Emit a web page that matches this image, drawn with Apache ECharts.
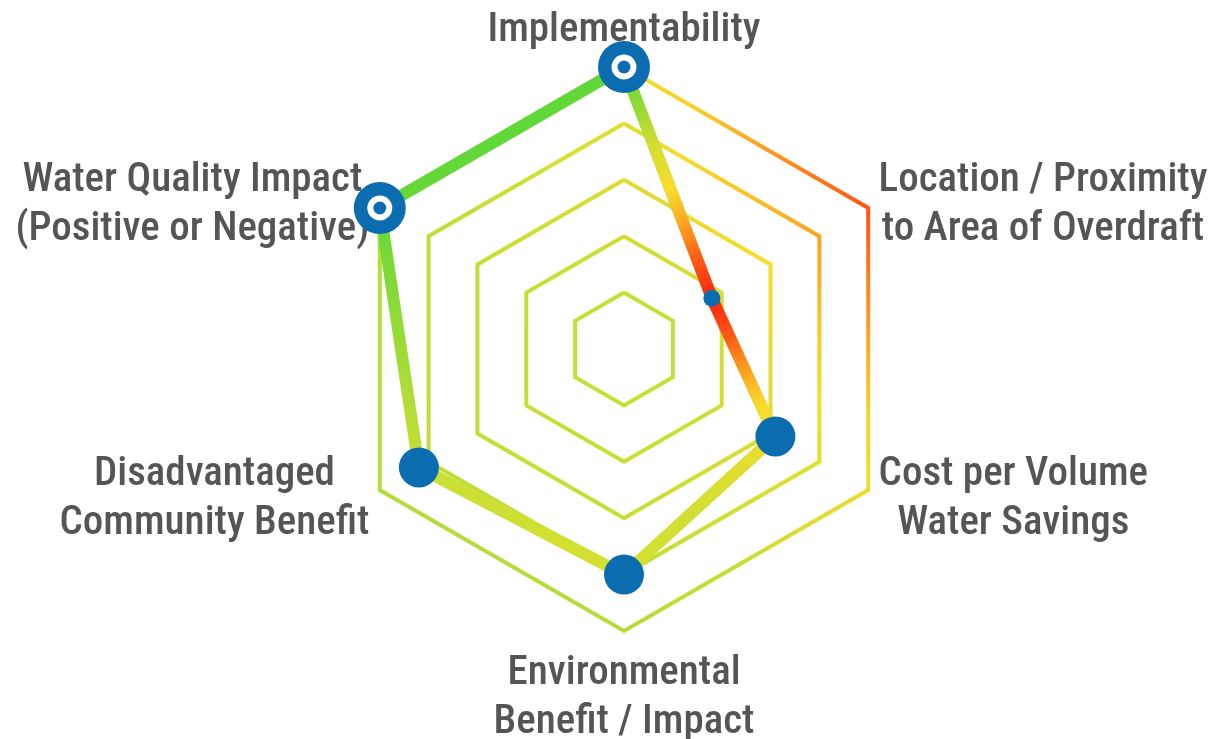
<!DOCTYPE html>
<html>
<head>
<meta charset="utf-8">
<title>Radar</title>
<script src="https://cdn.jsdelivr.net/npm/echarts@6/dist/echarts.min.js"></script>
<style>
  html, body { margin: 0; padding: 0; background: #fff; }
  #chart { width: 1220px; height: 739px; }
</style>
</head>
<body>
<div id="chart"></div>
<script>
// indicators, counter-clockwise starting at the top
var indicatorNames = [
  'Implementability',
  'Water Quality Impact\n(Positive or Negative)',
  'Disadvantaged\nCommunity Benefit',
  'Environmental\nBenefit / Impact',
  'Cost per Volume\nWater Savings',
  'Location / Proximity\nto Area of Overdraft'
]
var scoreMax = 5
var scores = [5, 5, 4.2, 4, 3.1, 1.8]

var CENTER = [624, 349]
var RADIUS = 282
var BLUE = '#0b6db0'
var FONT = "'Liberation Sans Narrow', 'Arial Narrow', 'Roboto Condensed', 'DejaVu Sans Condensed', sans-serif"

// pick a font size so that the labels are as wide as in the original
var ctx = document.createElement('canvas').getContext('2d')
ctx.font = '500 44px ' + FONT
var FONT_SIZE = Math.round(44 * 274 / ctx.measureText('Implementability').width)

function radial (x, y, r, stops) {
  return new echarts.graphic.RadialGradient(x, y, r, stops.map(function (s) {
    return { offset: s[0], color: s[1] }
  }))
}

// one colour per ring (index 0 is the centre point)
var ringColors = [
  '#c5df33',
  '#c5df33',
  radial(1, 0.25, 1, [[0, '#dcdc30'], [1, '#c6de34']]),
  radial(1, 0.25, 1, [[0, '#f8dc2c'], [0.4, '#e4dc30'], [1, '#c6de34']]),
  radial(1, 0.25, 1, [[0, '#ffa020'], [0.25, '#f8c828'], [0.4, '#f5dc2c'], [0.65, '#d8e030'], [1, '#c0dc36']]),
  radial(1, 0.25, 1, [[0, '#ff5212'], [0.25, '#ffa020'], [0.42, '#f8d22a'], [0.55, '#f2dc2e'], [0.62, '#e4dc30'], [0.82, '#c4dc34'], [1, '#b4dc3a']])
]

// polygon through the scores, closed back on the first axis (angle index 6 == 0)
function closedLine () {
  var d = scores.map(function (v, i) { return [v, i] })
  d.push([scores[0], scores.length])
  return d
}

function markers (sizeOf) {
  return scores.map(function (v, i) {
    var s = sizeOf(v)
    return { value: [v, i], symbol: s ? 'circle' : 'none', symbolSize: s || 1 }
  })
}

var markerBase = {
  type: 'line',
  coordinateSystem: 'polar',
  clip: false,
  showAllSymbol: true,
  silent: true,
  lineStyle: { opacity: 0 }
}

var chart = echarts.init(document.getElementById('chart'))
chart.setOption({
  animation: false,
  radar: {
    center: CENTER,
    radius: RADIUS,
    startAngle: 90,
    splitNumber: 5,
    shape: 'polygon',
    indicator: indicatorNames.map(function (n) { return { name: n, min: 0, max: scoreMax } }),
    axisNameGap: 12,
    axisName: {
      color: '#555',
      fontSize: FONT_SIZE,
      fontWeight: 500,
      fontFamily: FONT,
      lineHeight: 49,
      padding: [6, 0, 0, 0],
      formatter: function (name) {
        return name.split('\n').map(function (l) { return '{a|' + l + '}' }).join('\n')
      },
      rich: {
        a: { align: 'center', color: '#555', fontSize: FONT_SIZE, fontWeight: 500, fontFamily: FONT, lineHeight: 49 }
      }
    },
    axisLine: { show: false },
    axisTick: { show: false },
    axisLabel: { show: false },
    splitArea: { show: false },
    splitLine: { lineStyle: { color: ringColors, width: 4 } }
  },
  polar: { center: CENTER, radius: RADIUS },
  angleAxis: {
    type: 'value',
    min: 0,
    max: scores.length,
    interval: 1,
    startAngle: 90,
    clockwise: false,
    axisLine: { show: false },
    axisTick: { show: false },
    axisLabel: { show: false },
    splitLine: { show: false }
  },
  radiusAxis: {
    min: 0,
    max: scoreMax,
    axisLine: { show: false },
    axisTick: { show: false },
    axisLabel: { show: false },
    splitLine: { show: false }
  },
  series: [
    {
      // base line: green at the top, yellow-green at the bottom
      type: 'line',
      coordinateSystem: 'polar',
      clip: false,
      symbol: 'none',
      data: closedLine(),
      lineStyle: {
        width: 12,
        join: 'round',
        color: new echarts.graphic.LinearGradient(0, 0, 0, 1, [
          { offset: 0, color: '#5ed838' },
          { offset: 0.3, color: '#66d838' },
          { offset: 0.6, color: '#a8dc36' },
          { offset: 0.8, color: '#cadf34' },
          { offset: 1, color: '#d6e030' }
        ])
      }
    },
    {
      // hot overlay around the low score
      type: 'line',
      coordinateSystem: 'polar',
      clip: false,
      symbol: 'none',
      data: closedLine(),
      lineStyle: {
        width: 12,
        join: 'round',
        color: radial(0.836, 0.456, 0.6, [
          [0, '#ff2010'], [0.17, '#ff5a14'], [0.34, '#ffa822'], [0.48, '#f8dc2c'],
          [0.67, 'rgba(236,222,46,0.85)'], [1, 'rgba(210,222,50,0)']
        ])
      }
    },
    // blue marker: outer disc, white hole for full scores, centre dot
    Object.assign({ data: markers(function (v) { return v >= scoreMax ? 52 : (v < 2 ? 0 : 40) }), itemStyle: { color: BLUE } }, markerBase),
    Object.assign({ data: markers(function (v) { return v >= scoreMax ? 25 : 0 }), itemStyle: { color: '#fff' } }, markerBase),
    Object.assign({ data: markers(function (v) { return v < 2 ? 17 : 13 }), itemStyle: { color: BLUE } }, markerBase)
  ]
})
</script>
</body>
</html>
